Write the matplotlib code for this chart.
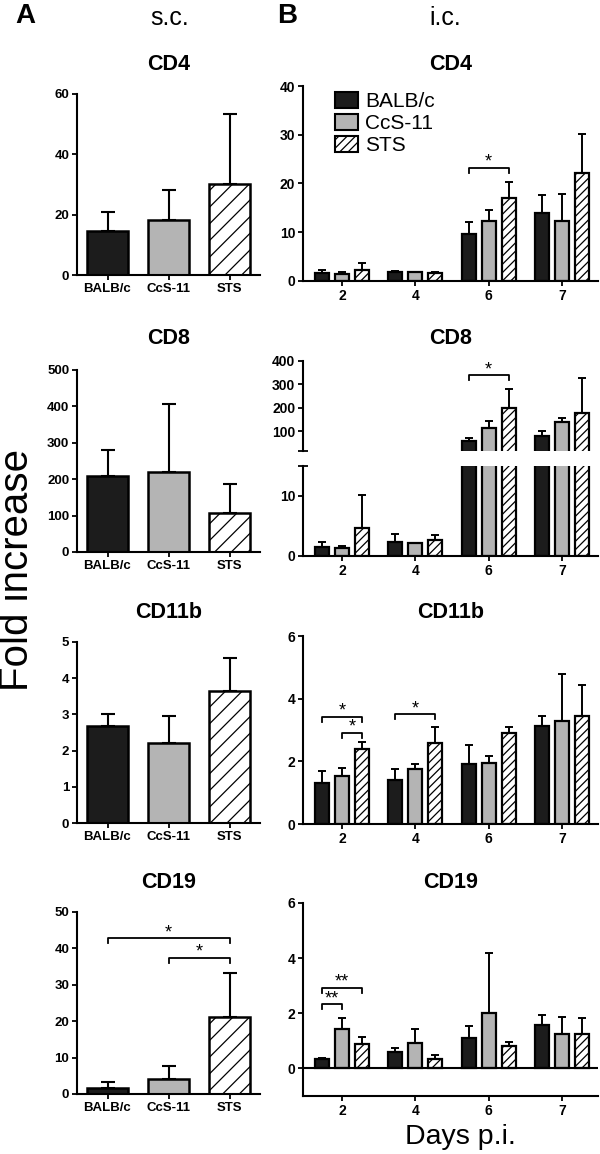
import numpy as np
import matplotlib
matplotlib.use("Agg")
import matplotlib.pyplot as plt
from matplotlib.patches import Patch

plt.rcParams['font.family'] = ['Liberation Sans', 'DejaVu Sans']
plt.rcParams['font.weight'] = 'bold'
plt.rcParams['hatch.linewidth'] = 0.9

# ---- data ----
strains = ["BALB/c", "CcS-11", "STS"]
days = ["2", "4", "6", "7"]
colors = ["#1c1c1c", "#b4b4b4", "white"]
hatches = [None, None, "//"]
hatches_ic = [None, None, "////"]

# s.c. (column A): mean per strain and upper error
sc_cd4 = [14.7, 18.2, 30.2]
sc_cd4_err = [6.1, 10.1, 23.3]
sc_cd8 = [209, 220, 106]
sc_cd8_err = [71, 187, 80]
sc_cd11b = [2.68, 2.21, 3.65]
sc_cd11b_err = [0.33, 0.74, 0.92]
sc_cd19 = [1.7, 4.0, 21.1]
sc_cd19_err = [1.6, 3.6, 12.1]

# i.c. (column B): one list per strain, values for days 2, 4, 6, 7
ic_cd4_balb = [1.6, 1.9, 9.7, 14.0]
ic_cd4_ccs = [1.4, 1.8, 12.3, 12.3]
ic_cd4_sts = [2.3, 1.7, 17.1, 22.1]
ic_cd4_balb_err = [0.6, 0.2, 2.5, 3.7]
ic_cd4_ccs_err = [0.4, 0.1, 2.2, 5.5]
ic_cd4_sts_err = [1.4, 0.1, 3.3, 8.0]

ic_cd8_balb = [1.55, 2.3, 57, 78]
ic_cd8_ccs = [1.4, 2.1, 114, 138]
ic_cd8_sts = [4.7, 2.7, 197, 178]
ic_cd8_balb_err = [0.75, 1.4, 14, 22]
ic_cd8_ccs_err = [0.3, 0.1, 31, 17]
ic_cd8_sts_err = [5.5, 0.8, 84, 151]

ic_cd11b_balb = [1.32, 1.40, 1.91, 3.12]
ic_cd11b_ccs = [1.53, 1.77, 1.94, 3.30]
ic_cd11b_sts = [2.39, 2.59, 2.89, 3.44]
ic_cd11b_balb_err = [0.38, 0.37, 0.60, 0.33]
ic_cd11b_ccs_err = [0.26, 0.16, 0.24, 1.48]
ic_cd11b_sts_err = [0.22, 0.50, 0.20, 0.99]

ic_cd19_balb = [0.36, 0.58, 1.11, 1.59]
ic_cd19_ccs = [1.43, 0.94, 2.00, 1.24]
ic_cd19_sts = [0.87, 0.33, 0.80, 1.24]
ic_cd19_balb_err = [0.02, 0.16, 0.44, 0.35]
ic_cd19_ccs_err = [0.40, 0.49, 2.17, 0.63]
ic_cd19_sts_err = [0.28, 0.14, 0.17, 0.58]

# significance brackets: (day index, strain from, strain to, height, label)
sc_cd19_sig = [(0, 2, 42.8, "*"), (1, 2, 37.5, "*")]
ic_cd4_sig = [(2, 0, 2, 23.2, "*")]
ic_cd8_sig = [(2, 0, 2, 338, "*")]
ic_cd11b_sig = [(0, 0, 2, 3.42, "*"), (0, 1, 2, 2.92, "*"), (1, 0, 2, 3.50, "*")]
ic_cd19_sig = [(0, 0, 1, 2.33, "**"), (0, 0, 2, 2.92, "**")]

W, H = 600, 1154
fig = plt.figure(figsize=(W / 100, H / 100), dpi=100)


def px_axes(left, top, right, bottom):
    # axes from pixel box of the reference
    return fig.add_axes([left / W, 1 - bottom / H, (right - left) / W, (bottom - top) / H])


def style(ax, size=9.5):
    for s in ["top", "right"]:
        ax.spines[s].set_visible(False)
    for s in ["left", "bottom"]:
        ax.spines[s].set_linewidth(1.5)
    ax.tick_params(direction="out", length=3.5, width=1.3, labelsize=size, pad=2)


def bracket(ax, x1, x2, y, label):
    # bracket with short downward ends, star above
    y0, y1 = ax.get_ylim()
    hpx = ax.get_position().height * H
    drop = 5 * (y1 - y0) / hpx
    ax.plot([x1, x1, x2, x2], [y - drop, y, y, y - drop], color="black", lw=1.3, clip_on=False)
    ax.annotate(label, ((x1 + x2) / 2, y), xytext=(0, 4), textcoords="offset points",
                ha="center", va="center", fontsize=13, fontweight="normal")


def sc_panel(top, bottom, vals, errs, ymax, ystep, sig=None):
    ax = px_axes(77, top, 260, bottom)
    x = np.arange(len(strains))
    ax.errorbar(x, vals, yerr=[np.zeros(len(vals)), errs], fmt="none", ecolor="black",
                elinewidth=1.5, capsize=5, capthick=1.5, zorder=1)
    for i in range(len(strains)):
        ax.bar(x[i], vals[i], width=0.68, color=colors[i], edgecolor="black",
               linewidth=1.8, hatch=hatches[i], zorder=2)
    ax.set_xlim(-0.5, 2.5)
    ax.set_ylim(0, ymax)
    ax.set_yticks(np.arange(0, ymax + ystep / 2, ystep))
    ax.set_xticks(x)
    ax.set_xticklabels(strains)
    style(ax)
    if sig:
        for a, b, y, lab in sig:
            bracket(ax, x[a], x[b], y, lab)
    return ax


off = 0.273
bw = 0.19


def ic_bars(ax, series, errs, lo=-np.inf, hi=np.inf):
    x = np.arange(len(days))
    for j in range(len(strains)):
        xs = x + (j - 1) * off
        v = np.array(series[j], dtype=float)
        e = np.array(errs[j], dtype=float)
        keep = (v + e >= lo) & (v + e <= hi)
        ax.errorbar(xs[keep], v[keep], yerr=[np.zeros(keep.sum()), e[keep]], fmt="none",
                    ecolor="black", elinewidth=1.4, capsize=3, capthick=1.4, zorder=1)
        ax.bar(xs, v, width=bw, color=colors[j], edgecolor="black",
               linewidth=1.6, hatch=hatches_ic[j], zorder=2)
    ax.set_xlim(-0.53, 3.49)


def ic_sig(ax, sig):
    for d, a, b, y, lab in sig:
        bracket(ax, d + (a - 1) * off, d + (b - 1) * off, y, lab)


def ic_panel(top, bottom, series, errs, ymin, ymax, ystep, sig=None):
    ax = px_axes(303, top, 598, bottom)
    ic_bars(ax, series, errs)
    ax.set_ylim(ymin, ymax)
    ax.set_yticks(np.arange(0, ymax + ystep / 2, ystep))
    ax.set_xticks(np.arange(len(days)))
    ax.set_xticklabels(days)
    style(ax, 10)
    if sig:
        ic_sig(ax, sig)
    return ax


# ---- column A ----
sc_panel(94, 275, sc_cd4, sc_cd4_err, 60, 20)
sc_panel(370, 552, sc_cd8, sc_cd8_err, 500, 100)
sc_panel(642, 823, sc_cd11b, sc_cd11b_err, 5, 1)
sc_panel(912, 1094, sc_cd19, sc_cd19_err, 50, 10, sc_cd19_sig)

# ---- column B ----
ax4 = ic_panel(86, 281, [ic_cd4_balb, ic_cd4_ccs, ic_cd4_sts],
               [ic_cd4_balb_err, ic_cd4_ccs_err, ic_cd4_sts_err], 0, 40, 10, ic_cd4_sig)
handles = [Patch(facecolor=colors[j], edgecolor="black", hatch=hatches_ic[j], linewidth=1.5)
           for j in range(len(strains))]
ax4.legend(handles, strains, loc="upper left", bbox_to_anchor=(0.06, 1.045), frameon=False,
           prop={"size": 15, "weight": "normal"}, handlelength=1.1, handleheight=0.8,
           handletextpad=0.35, labelspacing=0.13, borderpad=0.2)

# CD8 with broken y axis
cd8_series = [ic_cd8_balb, ic_cd8_ccs, ic_cd8_sts]
cd8_errs = [ic_cd8_balb_err, ic_cd8_ccs_err, ic_cd8_sts_err]
ax_up = px_axes(303, 361, 598, 451)
ax_lo = px_axes(303, 466, 598, 556)
ic_bars(ax_up, cd8_series, cd8_errs, lo=15)
ic_bars(ax_lo, cd8_series, cd8_errs, hi=15)
ax_up.set_ylim(15, 400)
ax_up.set_yticks([100, 200, 300, 400])
ax_lo.set_ylim(0, 15)
ax_lo.set_yticks([0, 10])
style(ax_up, 10)
style(ax_lo, 10)
ax_up.spines["bottom"].set_visible(False)
ax_up.tick_params(axis="x", bottom=False, labelbottom=False)
ax_lo.spines["top"].set_visible(False)
ax_lo.set_xticks(np.arange(len(days)))
ax_lo.set_xticklabels(days)
for ax in (ax_up, ax_lo):
    ax.set_yticks([15], minor=True)
    ax.tick_params(axis="y", which="minor", direction="inout", length=7, width=1.3)
ic_sig(ax_up, ic_cd8_sig)

ic_panel(636, 824, [ic_cd11b_balb, ic_cd11b_ccs, ic_cd11b_sts],
         [ic_cd11b_balb_err, ic_cd11b_ccs_err, ic_cd11b_sts_err], 0, 6, 2, ic_cd11b_sig)
ax19 = ic_panel(903, 1096, [ic_cd19_balb, ic_cd19_ccs, ic_cd19_sts],
                [ic_cd19_balb_err, ic_cd19_ccs_err, ic_cd19_sts_err], -1, 6, 2, ic_cd19_sig)
ax19.axhline(0, color="black", lw=1.5, zorder=3)

# ---- titles and labels ----
titles = ["CD4", "CD8", "CD11b", "CD19"]
title_y = [64, 338, 613, 882]
for t, y in zip(titles, title_y):
    fig.text(168.5 / W, 1 - y / H, t, ha="center", va="center", fontsize=15.5)
    fig.text(451 / W, 1 - y / H, t, ha="center", va="center", fontsize=15.5)

fig.text(25 / W, 1 - 16 / H, "A", ha="center", va="center", fontsize=20)
fig.text(287 / W, 1 - 16 / H, "B", ha="center", va="center", fontsize=20)
fig.text(170 / W, 1 - 18 / H, "s.c.", ha="center", va="center", fontsize=18, fontweight="normal")
fig.text(445 / W, 1 - 18 / H, "i.c.", ha="center", va="center", fontsize=18, fontweight="normal")
fig.text(17 / W, 1 - 570 / H, "Fold increase", ha="center", va="center", rotation=90,
         fontsize=29, fontweight="normal")
fig.text(460 / W, 1 - 1137 / H, "Days p.i.", ha="center", va="center", fontsize=20.5,
         fontweight="normal")

fig.savefig("out.png", dpi=100)
